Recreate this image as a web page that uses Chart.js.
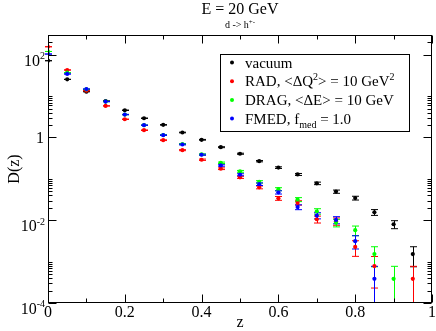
<!DOCTYPE html>
<html lang="en">
<head>
<meta charset="UTF-8">
<title>D(z), E = 20 GeV</title>
<script src="https://cdn.jsdelivr.net/npm/chart.js"></script>
<style>
  body { margin: 0; background: #fff; }
  .chart-box { width: 436px; height: 331px; position: relative; }
</style>
</head>
<body>
<div class="chart-box"><canvas id="dzChart"></canvas></div>
<script>
// z bins (bin left edges)
const zBins = [0, 0.05, 0.1, 0.15, 0.2, 0.25, 0.3, 0.35, 0.4, 0.45, 0.5, 0.55, 0.6, 0.65, 0.7, 0.75, 0.8, 0.85, 0.9, 0.95];

// D(z) values and errors (null = no point)
const vacuum    = [71.7, 25.4, 12.8, 7.6, 4.55, 2.92, 2.02, 1.32, 0.88, 0.583, 0.405, 0.268, 0.187, 0.128, 0.078, 0.0492, 0.0344, 0.0156, 0.0080, 0.00152];
const vacuumErr = [0.166, 0.099, 0.070, 0.054, 0.042, 0.034, 0.028, 0.023, 0.018, 0.015, 0.012, 0.010, 0.0085, 0.0070, 0.0055, 0.0044, 0.0036, 0.0025, 0.00175, 0.00077];
const rad       = [156, 42.8, 13.5, 5.8, 2.76, 1.50, 0.861, 0.494, 0.290, 0.176, 0.109, 0.0624, 0.0339, 0.0264, 0.01057, 0.00946, 0.00227, 0.00078, null, 0.000385];
const radErr    = [0.245, 0.128, 0.072, 0.047, 0.033, 0.024, 0.018, 0.014, 0.0106, 0.0082, 0.0065, 0.0049, 0.0036, 0.0032, 0.0020, 0.0019, 0.00093, 0.00055, null, 0.000385];
const drag      = [120, 36.8, 14.6, 7.4, 3.58, 1.98, 1.15, 0.697, 0.389, 0.245, 0.152, 0.0847, 0.0565, 0.0317, 0.0165, 0.00871, 0.00574, 0.00152, 0.000385, null];
const dragErr   = [0.215, 0.119, 0.075, 0.053, 0.037, 0.028, 0.021, 0.016, 0.012, 0.0097, 0.0077, 0.0057, 0.0047, 0.0035, 0.0025, 0.0018, 0.0015, 0.00077, 0.000385, null];
const fmed      = [104, 34.3, 14.8, 7.37, 3.58, 1.98, 1.14, 0.678, 0.383, 0.211, 0.126, 0.0745, 0.0473, 0.0208, 0.0130, 0.0102, 0.00312, 0.000385, null, null];
const fmedErr   = [0.200, 0.115, 0.075, 0.053, 0.037, 0.028, 0.021, 0.016, 0.012, 0.0090, 0.0070, 0.0054, 0.0043, 0.0028, 0.0022, 0.0020, 0.0011, 0.000385, null, null];

// axis ticks
const xMajorTicks = [0, 0.2, 0.4, 0.6, 0.8, 1];
const xTickLabels = ['0', '0.2', '0.4', '0.6', '0.8', '1'];
const xMinorTicks = [0.1, 0.3, 0.5, 0.7, 0.9];
const yMajorTicks = [1e-4, 1e-2, 1, 1e2];
const yTickLabels = [['10', '-4'], ['10', '-2'], ['1', ''], ['10', '2']];

// legend texts (s: 1 = superscript, -1 = subscript)
const legendItems = [
    { color: '#000000', parts: [{ t: 'vacuum' }] },
    { color: '#ff0000', parts: [{ t: 'RAD, <\u0394Q' }, { t: '2', s: 1 }, { t: '> = 10 GeV' }, { t: '2', s: 1 }] },
    { color: '#00ff00', parts: [{ t: 'DRAG, <\u0394E> = 10 GeV' }] },
    { color: '#0000ff', parts: [{ t: 'FMED, f' }, { t: 'med', s: -1 }, { t: ' = 1.0' }] }
];

const SERIF = '"Liberation Serif", "DejaVu Serif", serif';

function points(vals, errs) {
    const out = [];
    zBins.forEach((z, i) => {
        if (vals[i] != null) out.push({ x: z, y: vals[i], err: errs[i] });
    });
    return out;
}

function makeSet(label, vals, errs, color, order) {
    return {
        label: label,
        data: points(vals, errs),
        borderColor: color,
        backgroundColor: color,
        pointRadius: 2.1,
        pointBorderWidth: 0,
        pointHoverRadius: 2.1,
        showLine: false,
        order: order
    };
}

// draw text with super/subscripts
function richWidth(ctx, parts, size) {
    let w = 0;
    parts.forEach(p => {
        ctx.font = (p.s ? Math.round(size * 0.65) : size) + 'px ' + SERIF;
        w += ctx.measureText(p.t).width;
    });
    return w;
}
function drawRich(ctx, x, y, parts, size, align) {
    let w = richWidth(ctx, parts, size);
    let cx = align === 'center' ? x - w / 2 : align === 'right' ? x - w : x;
    ctx.textAlign = 'left';
    ctx.textBaseline = 'alphabetic';
    parts.forEach(p => {
        const sz = p.s ? Math.round(size * 0.65) : size;
        ctx.font = sz + 'px ' + SERIF;
        let dy = 0;
        if (p.s === 1) dy = -size * 0.42;
        if (p.s === -1) dy = size * 0.3;
        ctx.fillText(p.t, cx, y + dy);
        cx += ctx.measureText(p.t).width;
    });
}

// vertical error bars, drawn under the markers
const errorBars = {
    id: 'errorBars',
    beforeDatasetsDraw(chart) {
        const { ctx, chartArea, scales } = chart;
        ctx.save();
        ctx.beginPath();
        ctx.rect(chartArea.left - 8, chartArea.top - 8, chartArea.right - chartArea.left + 16, chartArea.bottom - chartArea.top + 8);
        ctx.clip();
        ctx.lineWidth = 1;
        const sets = chart.data.datasets.slice().sort((a, b) => b.order - a.order);
        sets.forEach(ds => {
            ctx.strokeStyle = ds.borderColor;
            ds.data.forEach(p => {
                const x = Math.round(scales.x.getPixelForValue(p.x)) + 0.5;
                const yTop = scales.y.getPixelForValue(p.y + p.err);
                const lo = p.y - p.err;
                const yBot = lo > 0 ? scales.y.getPixelForValue(lo) : chartArea.bottom + 2;
                ctx.beginPath();
                ctx.moveTo(x, yTop);
                ctx.lineTo(x, yBot);
                ctx.moveTo(x - 3.5, yTop);
                ctx.lineTo(x + 3.5, yTop);
                ctx.moveTo(x - 3.5, yBot);
                ctx.lineTo(x + 3.5, yBot);
                ctx.stroke();
            });
        });
        ctx.restore();
    }
};

// frame, inward ticks, labels, titles and legend
const decorations = {
    id: 'decorations',
    afterDraw(chart) {
        const { ctx, chartArea: a, scales } = chart;
        const L = Math.round(a.left) + 0.5, R = Math.round(a.right) - 0.5;
        const T = Math.round(a.top) + 0.5, B = Math.round(a.bottom) - 0.5;
        ctx.save();
        ctx.strokeStyle = '#000';
        ctx.fillStyle = '#000';
        ctx.lineWidth = 1;
        ctx.strokeRect(L, T, R - L, B - T);

        ctx.beginPath();
        const xTick = (v, len) => {
            const x = Math.round(scales.x.getPixelForValue(v)) + 0.5;
            ctx.moveTo(x, B); ctx.lineTo(x, B - len);
            ctx.moveTo(x, T); ctx.lineTo(x, T + len);
        };
        const yTick = (v, len) => {
            const y = Math.round(scales.y.getPixelForValue(v)) + 0.5;
            ctx.moveTo(L, y); ctx.lineTo(L + len, y);
            ctx.moveTo(R, y); ctx.lineTo(R - len, y);
        };
        xMajorTicks.forEach(v => xTick(v, 8));
        xMinorTicks.forEach(v => xTick(v, 4));
        yMajorTicks.forEach(v => {
            yTick(v, 8);
            for (let k = 2; k <= 10; k++) {
                if (v * k < scales.y.max) yTick(v * k, 4);
            }
        });
        ctx.stroke();

        // x tick labels
        ctx.font = '16px ' + SERIF;
        ctx.textAlign = 'center';
        ctx.textBaseline = 'alphabetic';
        xMajorTicks.forEach((v, i) => {
            ctx.fillText(xTickLabels[i], scales.x.getPixelForValue(v), 317);
        });

        // y tick labels
        yMajorTicks.forEach((v, i) => {
            const y = scales.y.getPixelForValue(v);
            const [base, exp] = yTickLabels[i];
            if (exp) {
                drawRich(ctx, 45, y + 11, [{ t: base }, { t: exp, s: 1 }], 16, 'right');
            } else {
                drawRich(ctx, 44, y + 6, [{ t: base }], 16, 'right');
            }
        });

        // axis titles
        ctx.font = '16px ' + SERIF;
        ctx.textAlign = 'center';
        ctx.textBaseline = 'alphabetic';
        ctx.fillText('z', (a.left + a.right) / 2, 327);
        ctx.save();
        ctx.translate(15, (a.top + a.bottom) / 2);
        ctx.rotate(-Math.PI / 2);
        ctx.textBaseline = 'middle';
        ctx.fillText('D(z)', 0, 0);
        ctx.restore();

        // titles
        const cx = (a.left + a.right) / 2;
        ctx.font = '16px ' + SERIF;
        ctx.textAlign = 'center';
        ctx.fillText('E = 20 GeV', cx, 14);
        drawRich(ctx, cx, 28, [{ t: 'd -> h' }, { t: '+-', s: 1 }], 10, 'center');

        // legend
        ctx.lineWidth = 1;
        ctx.strokeStyle = '#000';
        ctx.strokeRect(220.5, 54.5, 189, 77);
        legendItems.forEach((item, i) => {
            const y = 62.5 + i * 18.7;
            ctx.fillStyle = item.color;
            ctx.beginPath();
            ctx.arc(232, y, 2.0, 0, Math.PI * 2);
            ctx.fill();
            ctx.fillStyle = '#000';
            drawRich(ctx, 245, y + 5, item.parts, 15, 'left');
        });
        ctx.restore();
    }
};

new Chart(document.getElementById('dzChart'), {
    type: 'scatter',
    data: {
        datasets: [
            makeSet('vacuum', vacuum, vacuumErr, '#000000', 3),
            makeSet('RAD', rad, radErr, '#ff0000', 2),
            makeSet('DRAG', drag, dragErr, '#00ff00', 1),
            makeSet('FMED', fmed, fmedErr, '#0000ff', 0)
        ]
    },
    options: {
        responsive: true,
        maintainAspectRatio: false,
        animation: false,
        devicePixelRatio: 1,
        layout: { padding: { top: 35, right: 4, left: 0, bottom: 0 } },
        plugins: {
            legend: { display: false },
            tooltip: { enabled: false },
            title: { display: false }
        },
        scales: {
            x: {
                type: 'linear',
                min: 0,
                max: 1,
                grid: { display: false },
                border: { display: false },
                ticks: { display: false },
                afterFit(scale) { scale.height = 28; }
            },
            y: {
                type: 'logarithmic',
                min: 1e-4,
                max: 300,
                grid: { display: false },
                border: { display: false },
                ticks: { display: false },
                afterFit(scale) { scale.width = 48; }
            }
        }
    },
    plugins: [errorBars, decorations]
});
</script>
</body>
</html>
